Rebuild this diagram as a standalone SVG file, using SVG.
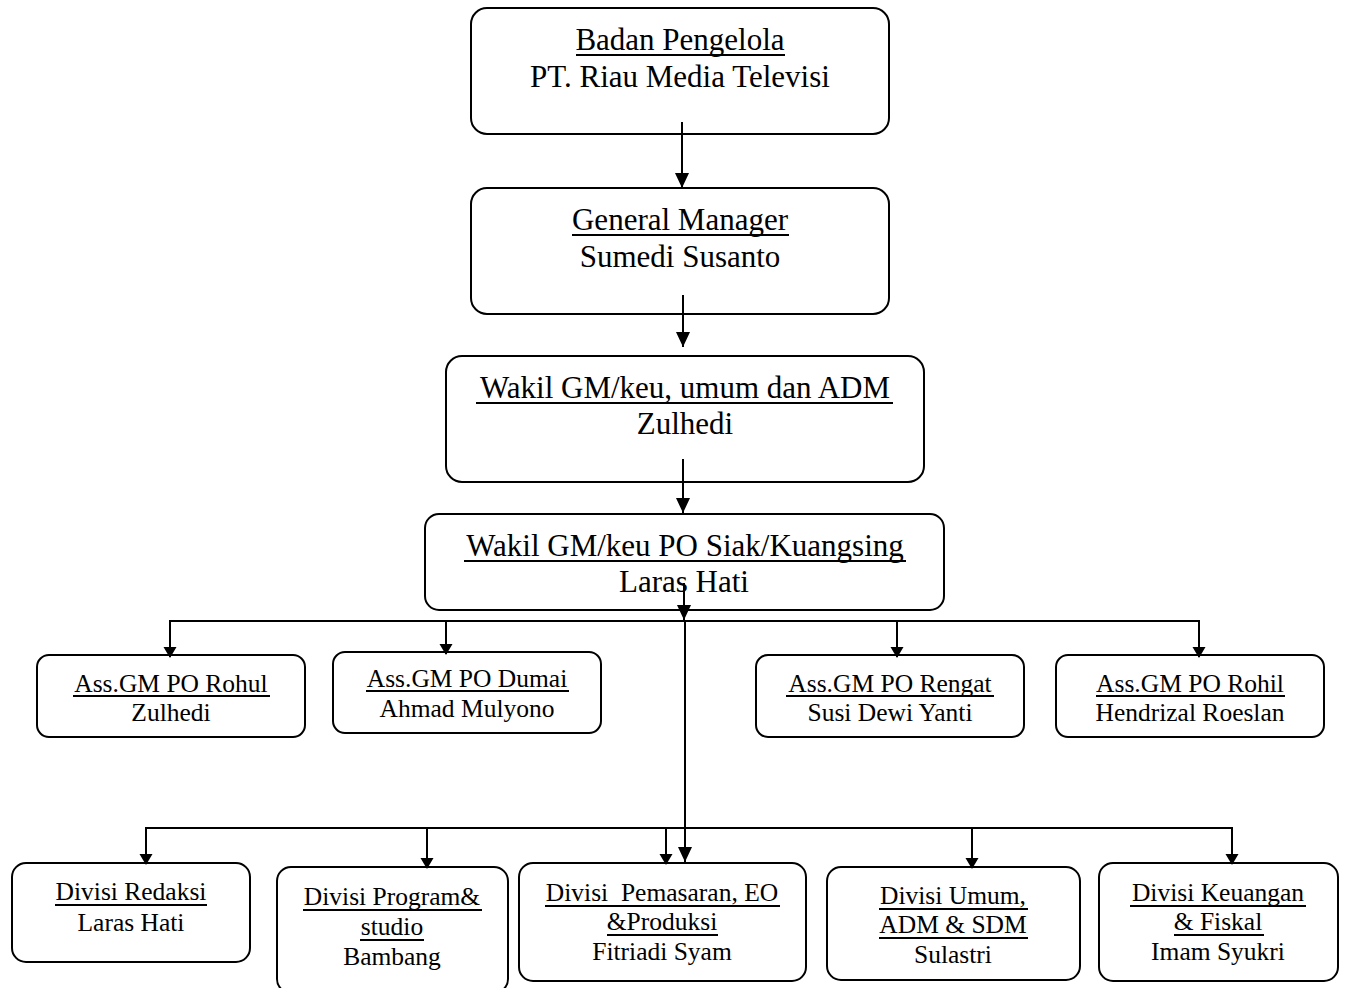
<svg xmlns="http://www.w3.org/2000/svg" width="1347" height="988" viewBox="0 0 1347 988">
<defs>
<style>
.box{fill:#fff;stroke:#000;stroke-width:2}
.ln{fill:none;stroke:#000;stroke-width:2}
.ul{stroke:#000;stroke-width:1.8}
.t{font-family:"Liberation Serif","Times New Roman",serif;fill:#000;text-anchor:middle}
.big{font-size:31px}
.mid{font-size:25.5px}
</style>
<marker id="ah" markerUnits="userSpaceOnUse" markerWidth="16" markerHeight="16" refX="15" refY="7" orient="auto" viewBox="0 0 16 14">
<path d="M0,0 L15,7 L0,14 z" fill="#000"/>
</marker>
<marker id="as" markerUnits="userSpaceOnUse" markerWidth="12" markerHeight="14" refX="10" refY="6.5" orient="auto" viewBox="0 0 12 13">
<path d="M0,0 L11,6.5 L0,13 z" fill="#000"/>
</marker>
</defs>
<rect width="1347" height="988" fill="#fff"/>

<g id="badan">
<rect class="box" x="471" y="8" width="418" height="126" rx="16"/>
<text class="t big" x="680" y="50">Badan Pengelola</text>
<line class="ul" x1="576" y1="55" x2="785" y2="55"/>
<text class="t big" x="680" y="87">PT. Riau Media Televisi</text>
</g>
<g id="gm">
<rect class="box" x="471" y="188" width="418" height="126" rx="16"/>
<text class="t big" x="680" y="230">General Manager</text>
<line class="ul" x1="572" y1="235" x2="789" y2="235"/>
<text class="t big" x="680" y="267">Sumedi Susanto</text>
</g>
<g id="wakil1">
<rect class="box" x="446" y="356" width="478" height="126" rx="16"/>
<text class="t big" x="685" y="398">Wakil GM/keu, umum dan ADM</text>
<line class="ul" x1="476" y1="403" x2="893" y2="403"/>
<text class="t big" x="685" y="434">Zulhedi</text>
</g>
<g id="wakil2">
<rect class="box" x="425" y="514" width="519" height="96" rx="14"/>
<text class="t big" x="685" y="556">Wakil GM/keu PO Siak/Kuangsing</text>
<line class="ul" x1="464" y1="561" x2="906" y2="561"/>
<text class="t big" x="684" y="592">Laras Hati</text>
</g>

<g id="rohul">
<rect class="box" x="37" y="655" width="268" height="82" rx="12"/>
<text class="t mid" x="171" y="692">Ass.GM PO Rohul</text>
<line class="ul" x1="73" y1="696" x2="270" y2="696"/>
<text class="t mid" x="171" y="721">Zulhedi</text>
</g>
<g id="dumai">
<rect class="box" x="333" y="652" width="268" height="81" rx="12"/>
<text class="t mid" x="467" y="687">Ass.GM PO Dumai</text>
<line class="ul" x1="366" y1="691" x2="569" y2="691"/>
<text class="t mid" x="467" y="717">Ahmad Mulyono</text>
</g>
<g id="rengat">
<rect class="box" x="756" y="655" width="268" height="82" rx="12"/>
<text class="t mid" x="890" y="692">Ass.GM PO Rengat</text>
<line class="ul" x1="786" y1="696" x2="994" y2="696"/>
<text class="t mid" x="890" y="721">Susi Dewi Yanti</text>
</g>
<g id="rohil">
<rect class="box" x="1056" y="655" width="268" height="82" rx="12"/>
<text class="t mid" x="1190" y="692">Ass.GM PO Rohil</text>
<line class="ul" x1="1096" y1="696" x2="1285" y2="696"/>
<text class="t mid" x="1190" y="721">Hendrizal Roeslan</text>
</g>

<g id="redaksi">
<rect class="box" x="12" y="863" width="238" height="99" rx="14"/>
<text class="t mid" x="131" y="900">Divisi Redaksi</text>
<line class="ul" x1="55" y1="905" x2="207" y2="905"/>
<text class="t mid" x="131" y="931">Laras Hati</text>
</g>
<g id="program">
<rect class="box" x="277" y="867" width="231" height="126" rx="14"/>
<text class="t mid" x="392" y="905">Divisi Program&amp;</text>
<line class="ul" x1="303" y1="910" x2="482" y2="910"/>
<text class="t mid" x="392" y="935">studio</text>
<line class="ul" x1="360" y1="940" x2="424" y2="940"/>
<text class="t mid" x="392" y="965">Bambang</text>
</g>
<g id="pemasaran">
<rect class="box" x="519" y="863" width="287" height="118" rx="14"/>
<text class="t mid" x="662" y="901" xml:space="preserve">Divisi  Pemasaran, EO</text>
<line class="ul" x1="545" y1="906" x2="780" y2="906"/>
<text class="t mid" x="662" y="930">&amp;Produksi</text>
<line class="ul" x1="607" y1="935" x2="718" y2="935"/>
<text class="t mid" x="662" y="960">Fitriadi Syam</text>
</g>
<g id="umum">
<rect class="box" x="827" y="867" width="253" height="113" rx="14"/>
<text class="t mid" x="953" y="904">Divisi Umum,</text>
<line class="ul" x1="879" y1="909" x2="1028" y2="909"/>
<text class="t mid" x="953" y="933">ADM &amp; SDM</text>
<line class="ul" x1="879" y1="938" x2="1028" y2="938"/>
<text class="t mid" x="953" y="963">Sulastri</text>
</g>
<g id="keuangan">
<rect class="box" x="1099" y="863" width="239" height="118" rx="14"/>
<text class="t mid" x="1218" y="901">Divisi Keuangan</text>
<line class="ul" x1="1130" y1="906" x2="1306" y2="906"/>
<text class="t mid" x="1218" y="930">&amp; Fiskal</text>
<line class="ul" x1="1174" y1="935" x2="1264" y2="935"/>
<text class="t mid" x="1218" y="960">Imam Syukri</text>
</g>

<g id="connectors">
<line class="ln" x1="682" y1="122" x2="682" y2="188" marker-end="url(#ah)"/>
<line class="ln" x1="683" y1="295" x2="683" y2="347" marker-end="url(#ah)"/>
<line class="ln" x1="683" y1="459" x2="683" y2="513" marker-end="url(#ah)"/>
<line class="ln" x1="684" y1="583" x2="684" y2="620" marker-end="url(#ah)"/>
<polyline class="ln" points="170,656 170,621 1199,621 1199,656"/>
<line class="ln" x1="170" y1="640" x2="170" y2="657" marker-end="url(#as)"/>
<line class="ln" x1="446" y1="621" x2="446" y2="654" marker-end="url(#as)"/>
<line class="ln" x1="897" y1="621" x2="897" y2="657" marker-end="url(#as)"/>
<line class="ln" x1="1199" y1="640" x2="1199" y2="657" marker-end="url(#as)"/>
<line class="ln" x1="685" y1="621" x2="685" y2="862" marker-end="url(#ah)"/>
<polyline class="ln" points="146,864 146,828 1232,828 1232,864"/>
<line class="ln" x1="146" y1="840" x2="146" y2="864" marker-end="url(#as)"/>
<line class="ln" x1="427" y1="828" x2="427" y2="868" marker-end="url(#as)"/>
<line class="ln" x1="666" y1="828" x2="666" y2="864" marker-end="url(#as)"/>
<line class="ln" x1="972" y1="828" x2="972" y2="868" marker-end="url(#as)"/>
<line class="ln" x1="1232" y1="840" x2="1232" y2="864" marker-end="url(#as)"/>
</g>
</svg>
